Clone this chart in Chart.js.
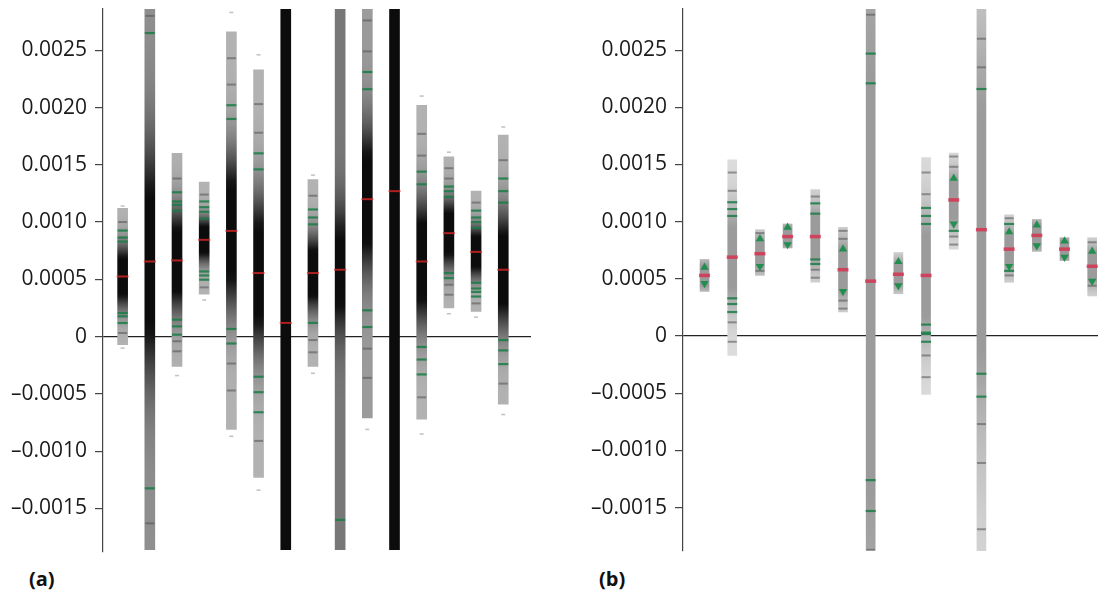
<!DOCTYPE html>
<html>
<head>
<meta charset="utf-8">
<script src="https://cdn.jsdelivr.net/npm/chart.js@4.4.1/dist/chart.umd.min.js"></script>
<style>
  body { margin: 0; background: #fff; width: 1107px; height: 600px; overflow: hidden; position: relative; font-family: "Open Sans", sans-serif; }
  #wrapA { position: absolute; left: 0; top: 0; width: 539px; height: 560px; }
  #wrapB { position: absolute; left: 580px; top: 0; width: 527px; height: 560px; }
  .panel-label { position: absolute; top: 565px; font-weight: bold; font-size: 20px; color: #111; }
</style>
</head>
<body>
<div id="wrapA"><canvas id="chartA" width="539" height="560"></canvas></div>
<div id="wrapB"><canvas id="chartB" width="527" height="560"></canvas></div>
<div class="panel-label" style="left:29px">(a)</div>
<div class="panel-label" style="left:599px">(b)</div>
<script>
const yTicks = [0.0025, 0.002, 0.0015, 0.001, 0.0005, 0, -0.0005, -0.001, -0.0015];
const yMin = -0.00188, yMax = 0.00286;
const stripIds = [1, 2, 3, 4, 5, 6, 7, 8, 9, 10, 11, 12, 13, 14, 15];

// panel (a) - density strips
const aLow    = [-0.00007, -0.00186, -0.00026, 0.00037, -0.00081, -0.00123, -0.00186, -0.00026, -0.00186, -0.00071, -0.00186, -0.00072, 0.00025, 0.00022, -0.00059];
const aHigh   = [0.00112, 0.00286, 0.0016, 0.00135, 0.00266, 0.00233, 0.00286, 0.00137, 0.00286, 0.00286, 0.00286, 0.00202, 0.00157, 0.00127, 0.00176];
const aMedian = [0.000525, 0.000656, 0.000665, 0.000845, 0.000923, 0.000555, 0.00012, 0.000555, 0.000584, 0.0012, 0.00127, 0.000656, 0.000903, 0.00074, 0.000584];
const aSpread = [0.00018, 0.00065, 0.0003, 0.00013, 0.00045, 0.00045, 0.01, 0.00022, 0.00034, 0.00042, 0.004, 0.00037, 0.0002, 0.00015, 0.00034];
const aTail   = [0.3, 0.45, 0.3, 0.3, 0.3, 0.3, 0.95, 0.3, 0.55, 0.4, 0.75, 0.3, 0.3, 0.3, 0.3];
const aGreen = [
  [0.000926, 0.000865, 0.00083, 0.000206, 0.000177, 0.000119],
  [0.00265, -0.001324],
  [0.00126, 0.00118, 0.00115, 0.0011, 0.000148, 0.00009, 0.000017],
  [0.00118, 0.00113, 0.00109, 0.00103, 0.000569, 0.000534, 0.000497],
  [0.00202, 0.0019, 0.000067, -0.00006],
  [0.0016, 0.00146, -0.00035, -0.000485, -0.00066],
  [],
  [0.00111, 0.00104, 0.00098, 0.00012],
  [-0.0016],
  [0.00231, 0.00216, 0.00023, 0.000084],
  [],
  [0.00144, 0.00133, -0.00009, -0.0002, -0.00033],
  [0.00131, 0.00127, 0.00122, 0.000555, 0.000511],
  [0.0011, 0.00104, 0.001, 0.00095, 0.00047, 0.00042, 0.00039, 0.00035],
  [0.00138, 0.00127, 0.00117, -0.00003, -0.00012, -0.00024]
];
const aGray = [
  [0.001, 0.000032],
  [0.0028, -0.00163],
  [0.00138, -0.00004, -0.000128],
  [0.00124, 0.00043],
  [0.00243, 0.0022, -0.000235, -0.00047],
  [0.00203, 0.00178, -0.00091],
  [],
  [0.00123, -0.00003, -0.000137],
  [],
  [0.00276, 0.00249, -0.000105, -0.00036],
  [],
  [0.00177, 0.00158, -0.00053],
  [0.00147, 0.00138, 0.000453, 0.000366],
  [0.00117, 0.00029],
  [0.00154, -0.00041]
];
const aDots = [
  [0.00114, -0.0001], [], [-0.00034], [0.00032], [0.00283, -0.00087], [0.00246, -0.00134], [],
  [0.00141, -0.00032], [], [-0.00081], [], [0.0021, -0.00085], [0.00161, 0.0002], [0.00017], [0.00183, -0.00068]
];

// panel (b)
const bLow    = [0.00039, -0.00017, 0.00053, 0.00077, 0.00047, 0.00021, -0.00187, 0.00037, -0.00051, 0.00076, -0.0019, 0.00047, 0.00074, 0.00066, 0.00035];
const bHigh   = [0.00067, 0.00154, 0.00093, 0.00098, 0.00128, 0.00095, 0.00286, 0.00073, 0.00156, 0.0016, 0.00286, 0.00106, 0.00102, 0.00086, 0.00086];
const bMedian = [0.00053, 0.00069, 0.00072, 0.00087, 0.00087, 0.00058, 0.00048, 0.00054, 0.00053, 0.00119, 0.00093, 0.00076, 0.00088, 0.00076, 0.00061];
const bSpread = [0.0001, 0.0003, 0.00012, 0.00008, 0.0002, 0.0002, 0.002, 0.0001, 0.0004, 0.00018, 0.0012, 0.00015, 0.0001, 0.00008, 0.00013];
const bTail   = [0.3, 0.3, 0.3, 0.3, 0.3, 0.3, 0.6, 0.3, 0.3, 0.3, 0.35, 0.3, 0.3, 0.3, 0.3];
const bGreen = [
  [], [0.00117, 0.00111, 0.00105, 0.00033, 0.00028, 0.00021], [], [],
  [0.00116, 0.00107, 0.00067, 0.00063], [], [0.00247, 0.00221, -0.00126, -0.00153], [],
  [0.00112, 0.00105, 0.00098, 0.0001, 0.00003, 0.000017, -0.00005], [0.00092],
  [0.00216, -0.00033, -0.00053], [0.00098, 0.00057], [], [], []
];
const bGray = [
  [], [0.00143, 0.00127, 0.00012, -0.00005], [0.0009, 0.00057], [], [0.00122, 0.00058, 0.00051],
  [0.00092, 0.00085, 0.00031, 0.00024], [0.00281, -0.00187], [], [0.00143, 0.00124, -0.00017, -0.00036],
  [0.00157, 0.00148, 0.00087, 0.0008], [0.0026, 0.00235, -0.00077, -0.00111, -0.00169], [0.00103, 0.00053],
  [], [], [0.00082, 0.00044]
];
const bUp   = [0.0006, null, 0.00085, 0.00095, null, 0.00076, null, 0.00065, null, 0.00138, null, 0.00091, 0.00097, 0.00083, 0.00074];
const bDown = [0.00046, null, 0.00061, 0.0008, null, 0.00039, null, 0.00044, null, 0.00098, null, 0.00061, 0.00079, 0.00069, 0.00048];

function listPoints(lists) {
  var out = [];
  lists.forEach(function (vals, i) {
    vals.forEach(function (v) { out.push({ x: stripIds[i], y: v }); });
  });
  return out;
}
function flatPoints(vals) {
  var out = [];
  vals.forEach(function (v, i) { if (v !== null) out.push({ x: stripIds[i], y: v }); });
  return out;
}

function shade(v, m, s, tail, peak) {
  var z = (v - m) / s;
  var core = Math.min(1, 1.5 * Math.exp(-0.5 * z * z));
  return (tail + (1 - tail) * core) * peak;
}

function stripFill(p) {
  return function (ctx) {
    var chart = ctx.chart;
    if (!chart.chartArea || ctx.dataIndex === undefined) return 'rgba(0,0,0,0)';
    var i = ctx.dataIndex;
    var ys = chart.scales.y;
    var top = ys.getPixelForValue(p.high[i]), bot = ys.getPixelForValue(p.low[i]);
    var g = chart.ctx.createLinearGradient(0, top, 0, bot);
    var n = 40;
    for (var k = 0; k <= n; k++) {
      var t = k / n;
      var v = p.high[i] - t * (p.high[i] - p.low[i]);
      var d = shade(v, p.median[i], p.spread[i], p.tail[i], p.peak);
      var c = Math.round(250 - 238 * d);
      g.addColorStop(t, 'rgb(' + c + ',' + c + ',' + c + ')');
    }
    return g;
  };
}

function makePanel(id, p) {
  var datasets = [
    {
      type: 'bar',
      data: stripIds.map(function (x, i) { return { x: x, y: [p.low[i], p.high[i]] }; }),
      backgroundColor: stripFill(p),
      borderWidth: 0,
      borderSkipped: false,
      barThickness: p.barWidth,
      order: 5
    },
    {
      type: 'scatter',
      data: listPoints(p.dots),
      pointStyle: 'line', radius: 2, borderWidth: 1.5,
      borderColor: 'rgba(150,150,150,0.6)',
      order: 4
    },
    {
      type: 'scatter',
      data: listPoints(p.gray),
      pointStyle: 'line', radius: 4.5, borderWidth: 2,
      borderColor: 'rgba(80,80,80,0.55)',
      order: 4
    },
    {
      type: 'scatter',
      data: listPoints(p.green),
      pointStyle: 'line', radius: 5, borderWidth: 2.2,
      borderColor: 'rgba(25,125,70,0.85)',
      order: 3
    },
    {
      type: 'scatter',
      data: stripIds.map(function (x, i) { return { x: x, y: p.median[i] }; }),
      pointStyle: 'line', radius: p.medRadius, borderWidth: p.medWidth,
      borderColor: p.medColor,
      order: 1
    }
  ];
  if (p.up) {
    datasets.push({
      type: 'scatter', data: flatPoints(p.up), pointStyle: 'triangle', radius: 4.8,
      backgroundColor: 'rgba(20,140,70,0.9)', borderWidth: 0, rotation: 0, order: 2
    });
    datasets.push({
      type: 'scatter', data: flatPoints(p.down), pointStyle: 'triangle', radius: 4.8,
      backgroundColor: 'rgba(20,140,70,0.9)', borderWidth: 0, rotation: 180, order: 2
    });
  }

  return new Chart(document.getElementById(id), {
    type: 'bar',
    data: { datasets: datasets },
    options: {
      responsive: false,
      animation: false,
      layout: { padding: { top: 9, bottom: 7, left: 0, right: 0 } },
      plugins: { legend: { display: false }, tooltip: { enabled: false } },
      scales: {
        x: { type: 'linear', min: p.xMin, max: p.xMax, offset: false, display: false },
        y: {
          type: 'linear', min: yMin, max: yMax,
          afterFit: function (scale) { scale.width = 103; scale.paddingTop = 0; scale.paddingBottom = 0; },
          afterBuildTicks: function (scale) { scale.ticks = yTicks.map(function (v) { return { value: v }; }); },
          border: { display: true, color: '#444', width: 1.2 },
          grid: {
            drawOnChartArea: true,
            drawTicks: true,
            tickLength: 8,
            tickColor: '#444',
            lineWidth: 1.2,
            color: function (c) { return c.tick && c.tick.value === 0 ? '#222' : 'rgba(0,0,0,0)'; }
          },
          ticks: {
            autoSkip: false,
            padding: 8,
            color: '#1a1a1a',
            font: { family: 'Open Sans', size: 21 },
            callback: function (v) { return v === 0 ? '0' : (v < 0 ? '\u2013' : '') + Math.abs(v).toFixed(4); }
          }
        }
      }
    }
  });
}

makePanel('chartA', {
  low: aLow, high: aHigh, median: aMedian, spread: aSpread, tail: aTail, peak: 1,
  green: aGreen, gray: aGray, dots: aDots,
  xMin: 0.278, xMax: 16.02, barWidth: 10,
  medRadius: 6, medWidth: 2, medColor: 'rgba(230,40,40,0.75)'
});

makePanel('chartB', {
  low: bLow, high: bHigh, median: bMedian, spread: bSpread, tail: bTail, peak: 0.4,
  green: bGreen, gray: bGray, dots: [[], [], [], [], [], [], [], [], [], [], [], [], [], [], []],
  up: bUp, down: bDown,
  xMin: 0.222, xMax: 15.21, barWidth: 9,
  medRadius: 5.5, medWidth: 3.5, medColor: 'rgba(215,50,80,0.85)'
});
</script>
</body>
</html>
